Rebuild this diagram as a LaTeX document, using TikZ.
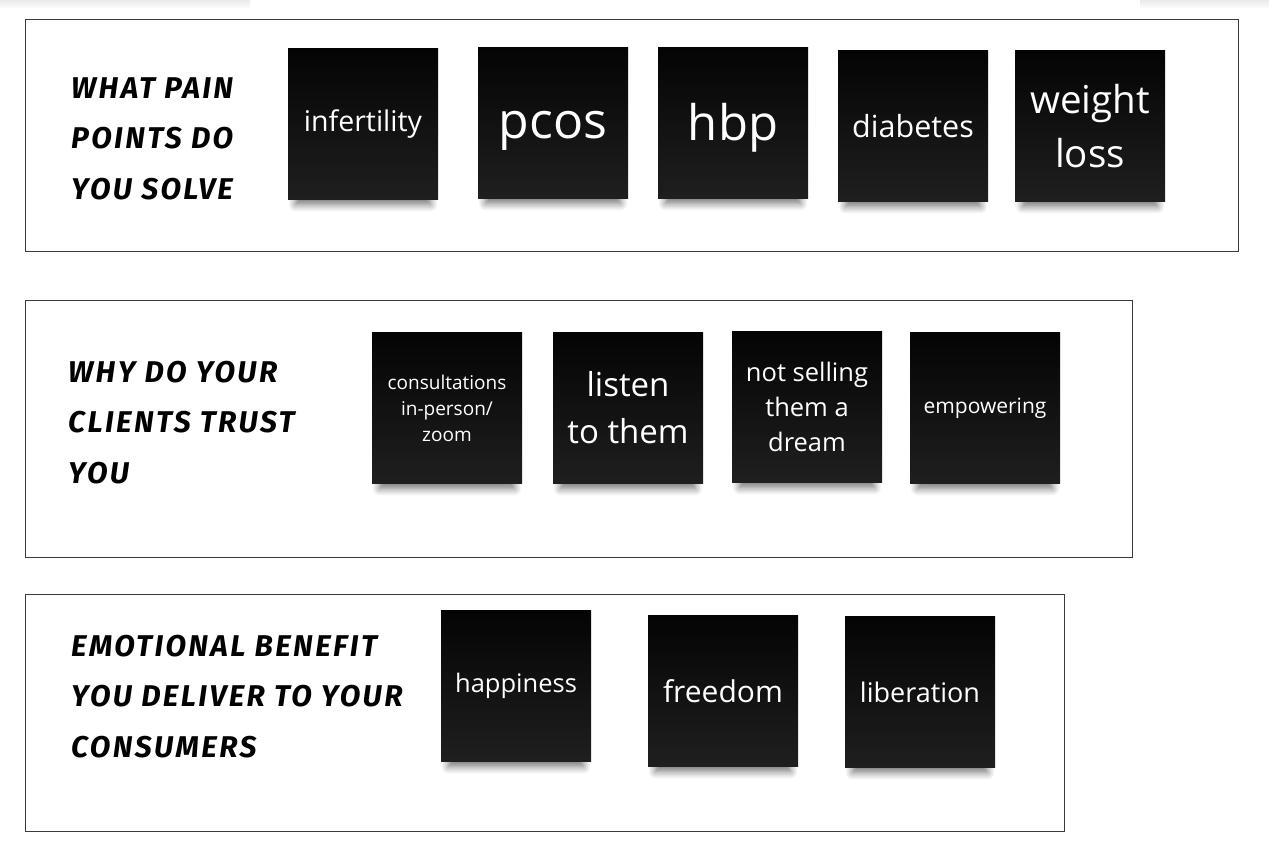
\documentclass[tikz,border=0pt]{standalone}
\usepackage{fontspec}
\setmainfont{Open Sans}
\newfontfamily\handfont{Fira Sans}[LetterSpace=8]
\usetikzlibrary{shadows.blur}
\definecolor{framedark}{HTML}{3A3A3A}
\definecolor{notetop}{HTML}{040404}
\definecolor{notebottom}{HTML}{1F1F1F}
\definecolor{edgeshade}{HTML}{EAEAEA}
\tikzset{
  panel/.style={rectangle, draw=framedark, line width=0.9pt},
  sticky/.style={rectangle, inner sep=0pt, minimum width=150pt, minimum height=151pt,
    top color=notetop, bottom color=notebottom, text=white, align=center,
    blur shadow={shadow xshift=0pt, shadow yshift=-14pt, shadow scale=0.9,
      shadow blur radius=8pt, shadow blur steps=10, shadow opacity=55}},
  heading/.style={anchor=base west, align=left, inner sep=0pt,
    font=\handfont\bfseries\itshape\fontsize{30}{50.5}\selectfont},
  fs/.style={font=\fontsize{#1}{#1}\selectfont\setlength\baselineskip{1.3\dimexpr #1pt\relax}},
}

\begin{document}
\begin{tikzpicture}[x=1pt, y=-1pt]
\useasboundingbox (0,0) rectangle (1269,851);

% ===== Faint edges of neighbouring notes =====
\fill[top color=edgeshade, bottom color=white] (0,0) rectangle (250,9);
\fill[top color=edgeshade, bottom color=white] (1140,0) rectangle (1269,9);

% ===== Panels =====
\node[panel, anchor=north west, minimum width=1213pt, minimum height=232pt] (painbox) at (25,19) {};
\node[panel, anchor=north west, minimum width=1107pt, minimum height=257pt] (trustbox) at (25,300) {};
\node[panel, anchor=north west, minimum width=1039pt, minimum height=237pt] (benefitbox) at (25,594) {};

% ===== Headings (anchored on the last line) =====
\node[heading] (painhead) at (71,199) {WHAT PAIN\\POINTS DO\\YOU SOLVE};
\node[heading] (trusthead) at (68,483) {WHY DO YOUR\\CLIENTS TRUST\\YOU};
\node[heading] (benefithead) at (71,757) {EMOTIONAL BENEFIT\\YOU DELIVER TO YOUR\\CONSUMERS};

% ===== Pain points =====
\node[sticky, fs=28.5] (infert) at (363,124) {infertility};
\node[sticky, fs=50] (pcos) at (553,123) {\raisebox{-8pt}[\height][\depth]{pcos}};
\node[sticky, fs=49] (hbp) at (733,123) {\raisebox{-5pt}[\height][\depth]{hbp}};
\node[sticky, fs=30.5] (diab) at (913,126) {diabetes};
\node[sticky, fs=38.5] (weight) at (1090,126) {weight\\[4pt]loss};

% ===== Trust =====
\node[sticky, fs=19] (consult) at (447,408) {consultations\\[1.3pt]in-person/\\[1.3pt]zoom};
\node[sticky, fs=33] (listen) at (628,408) {listen\\[4pt]to them};
\node[sticky, fs=25.5] (dream) at (807,407) {not selling\\[2pt]them a\\[2pt]dream};
\node[sticky, fs=21] (empower) at (985,408) {empowering};

% ===== Emotional benefit =====
\node[sticky, fs=25.5] (happy) at (516,686) {happiness};
\node[sticky, fs=30] (free) at (723,691) {freedom};
\node[sticky, fs=27] (liber) at (920,692) {liberation};

\end{tikzpicture}
\end{document}
